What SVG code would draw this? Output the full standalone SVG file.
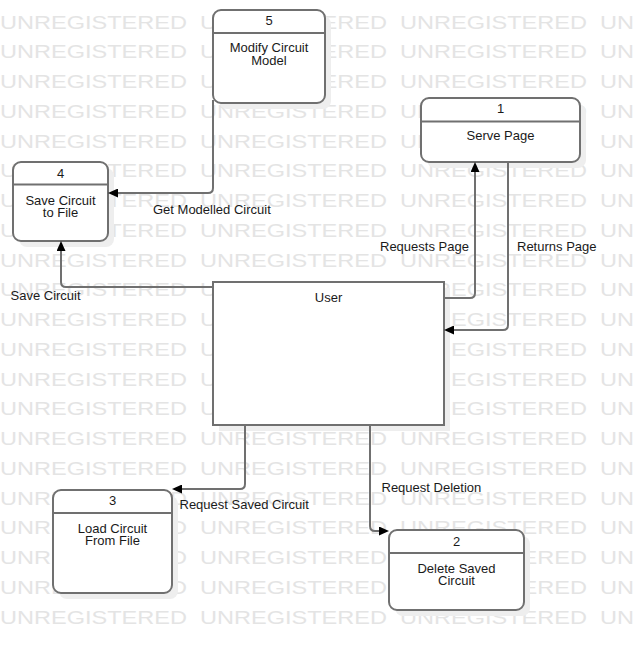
<svg xmlns="http://www.w3.org/2000/svg" xmlns:xlink="http://www.w3.org/1999/xlink" width="635" height="650" viewBox="0 0 635 650">
<style>
.wm{font-family:"Liberation Sans",Arial,sans-serif;font-size:19px;fill:#e4e4e4}
.box{fill:#fff;stroke:#707070;stroke-width:2}
.shadow{fill:#eeeeee}
.div{stroke:#707070;stroke-width:2}
.t{font-family:"Liberation Sans",Arial,sans-serif;font-size:13px;fill:#1a1a1a}
.c{text-anchor:middle}
.conn{fill:none;stroke:#707070;stroke-width:2;marker-end:url(#ah)}
</style>
<defs>
<marker id="ah" markerWidth="10" markerHeight="9" refX="0" refY="4.5" orient="auto" markerUnits="userSpaceOnUse">
<path d="M0,0 L10,4.5 L0,9 z" fill="#000"/>
</marker>
<g id="wmrow">
<text class="wm" x="0" y="0" textLength="187" lengthAdjust="spacingAndGlyphs">UNREGISTERED</text>
<text class="wm" x="200" y="0" textLength="187" lengthAdjust="spacingAndGlyphs">UNREGISTERED</text>
<text class="wm" x="400" y="0" textLength="187" lengthAdjust="spacingAndGlyphs">UNREGISTERED</text>
<text class="wm" x="600" y="0" textLength="34" lengthAdjust="spacingAndGlyphs">UN</text>
</g>
</defs>
<rect width="635" height="650" fill="#fff"/>
<g id="watermark">
<use xlink:href="#wmrow" y="28.5"/>
<use xlink:href="#wmrow" y="58.25"/>
<use xlink:href="#wmrow" y="88"/>
<use xlink:href="#wmrow" y="117.75"/>
<use xlink:href="#wmrow" y="147.5"/>
<use xlink:href="#wmrow" y="177.25"/>
<use xlink:href="#wmrow" y="207"/>
<use xlink:href="#wmrow" y="236.75"/>
<use xlink:href="#wmrow" y="266.5"/>
<use xlink:href="#wmrow" y="296.25"/>
<use xlink:href="#wmrow" y="326"/>
<use xlink:href="#wmrow" y="355.75"/>
<use xlink:href="#wmrow" y="385.5"/>
<use xlink:href="#wmrow" y="415.25"/>
<use xlink:href="#wmrow" y="445"/>
<use xlink:href="#wmrow" y="474.75"/>
<use xlink:href="#wmrow" y="504.5"/>
<use xlink:href="#wmrow" y="534.25"/>
<use xlink:href="#wmrow" y="564"/>
<use xlink:href="#wmrow" y="593.75"/>
<use xlink:href="#wmrow" y="623.5"/>
</g>
<g id="node5">
<rect class="shadow" x="219" y="16" width="112" height="93" rx="8"/>
<rect class="box" x="213" y="10" width="112" height="93" rx="8"/>
<line class="div" x1="213" y1="33" x2="325" y2="33"/>
<text class="t c" x="269" y="24.5">5</text>
<text class="t c" x="269" y="52">Modify Circuit</text>
<text class="t c" x="269" y="65">Model</text>
</g>
<g id="node1">
<rect class="shadow" x="427" y="104" width="159" height="64" rx="8"/>
<rect class="box" x="421" y="98" width="159" height="64" rx="8"/>
<line class="div" x1="421" y1="121.5" x2="580" y2="121.5"/>
<text class="t c" x="500.5" y="113">1</text>
<text class="t c" x="500.5" y="140">Serve Page</text>
</g>
<g id="node4">
<rect class="shadow" x="19" y="168" width="95" height="79" rx="8"/>
<rect class="box" x="13" y="162" width="95" height="79" rx="8"/>
<line class="div" x1="13" y1="184.5" x2="108" y2="184.5"/>
<text class="t c" x="60.5" y="177.5">4</text>
<text class="t c" x="60.5" y="204.5">Save Circuit</text>
<text class="t c" x="60.5" y="217">to File</text>
</g>
<g id="nodeUser">
<rect class="shadow" x="219" y="288" width="231" height="143"/>
<rect class="box" x="213" y="282" width="231" height="143"/>
<text class="t c" x="328.5" y="302">User</text>
</g>
<g id="node3">
<rect class="shadow" x="59" y="496" width="119" height="103" rx="8"/>
<rect class="box" x="53" y="490" width="119" height="103" rx="8"/>
<line class="div" x1="53" y1="513" x2="172" y2="513"/>
<text class="t c" x="112.5" y="504.5">3</text>
<text class="t c" x="112.5" y="532.5">Load Circuit</text>
<text class="t c" x="112.5" y="545">From File</text>
</g>
<g id="node2">
<rect class="shadow" x="395" y="536" width="135" height="80" rx="8"/>
<rect class="box" x="389" y="530" width="135" height="80" rx="8"/>
<line class="div" x1="389" y1="553" x2="524" y2="553"/>
<text class="t c" x="456.5" y="546">2</text>
<text class="t c" x="456.5" y="572.5">Delete Saved</text>
<text class="t c" x="456.5" y="585">Circuit</text>
</g>
<g id="connectors">
<path class="conn" d="M213,100 V188 Q213,193 208,193 H118"/>
<path class="conn" d="M213,287 H66 Q61,287 61,282 V251"/>
<path class="conn" d="M444,298 H470 Q475,298 475,293 V172"/>
<path class="conn" d="M508,162 V325 Q508,330 503,330 H454"/>
<path class="conn" d="M245,425 V484 Q245,489 240,489 H182"/>
<path class="conn" d="M370,425 V526 Q370,531 375,531 H379"/>
<text class="t" x="153" y="213.5">Get Modelled Circuit</text>
<text class="t" x="10.5" y="300">Save Circuit</text>
<text class="t" x="380" y="251">Requests Page</text>
<text class="t" x="517" y="251">Returns Page</text>
<text class="t" x="179.5" y="508.5">Request Saved Circuit</text>
<text class="t" x="381.5" y="491.5">Request Deletion</text>
</g>
</svg>
